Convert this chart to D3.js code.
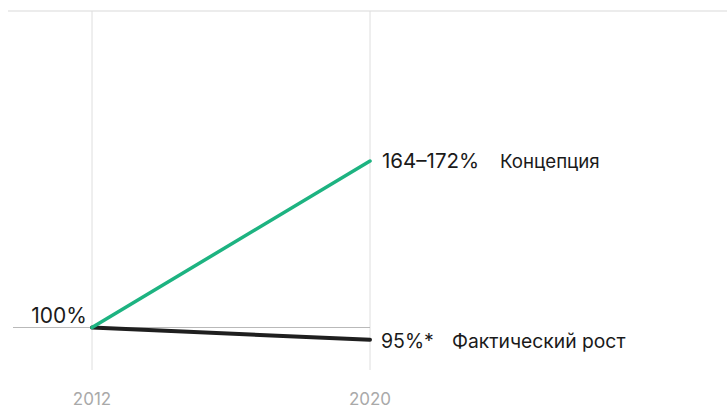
<!DOCTYPE html>
<html><head><meta charset="utf-8">
<script src="https://cdn.jsdelivr.net/npm/d3@7"></script>
<style>body{margin:0;background:#fff}svg{display:block}</style>
</head><body><svg id="c" width="727" height="409"></svg>
<script>
const years = [2012, 2020];
const concept = [100, 168];
const actual = [100, 95];
const startLabel = "100%";
const conceptValueLabel = "164–172%";
const conceptName = "Концепция";
const actualValueLabel = "95%*";
const actualName = "Фактический рост";

const svg = d3.select("#c");
const font = "Inter, 'Noto Sans', sans-serif";
const x = d3.scaleLinear().domain(years).range([92, 370]);
const y = d3.scaleLinear().domain([100, 168]).range([327.5, 161]);

// top rule
svg.append("line").attr("x1", 8).attr("x2", 727).attr("y1", 11).attr("y2", 11)
  .attr("stroke", "#e6e6e6").attr("stroke-width", 1.5);
// vertical grid lines
years.forEach(yr => {
  svg.append("line").attr("x1", x(yr)).attr("x2", x(yr)).attr("y1", 11).attr("y2", 370)
    .attr("stroke", "#dedede").attr("stroke-width", 1);
});
// baseline at 100%
svg.append("line").attr("x1", 13).attr("x2", x(2020)).attr("y1", y(100)).attr("y2", y(100))
  .attr("stroke", "#b9b9b9").attr("stroke-width", 1.2);

const line = d3.line().x((d, i) => x(years[i])).y(d => y(d));
svg.append("path").datum(actual).attr("d", line).attr("fill", "none")
  .attr("stroke", "#1f1f1f").attr("stroke-width", 4).attr("stroke-linecap", "round");
svg.append("path").datum(concept).attr("d", line).attr("fill", "none")
  .attr("stroke", "#1db381").attr("stroke-width", 3.5).attr("stroke-linecap", "round");

// year labels
years.forEach(yr => {
  svg.append("text").attr("x", x(yr)).attr("y", 405).attr("text-anchor", "middle")
    .attr("font-family", font).attr("font-size", 17).attr("fill", "#a9a9a9").text(yr);
});

svg.append("text").attr("x", 87).attr("y", 323).attr("text-anchor", "end")
  .attr("font-family", font).attr("font-size", 21).attr("fill", "#1a1a1a").text(startLabel);

svg.append("text").attr("x", 382).attr("y", y(168) + 7).attr("font-family", font)
  .attr("font-size", 20.5).attr("fill", "#1a1a1a").text(conceptValueLabel);
svg.append("text").attr("x", 500).attr("y", y(168) + 7).attr("font-family", font)
  .attr("font-size", 18.7).attr("fill", "#1a1a1a").text(conceptName);

svg.append("text").attr("x", 381).attr("y", y(95) + 8).attr("font-family", font)
  .attr("font-size", 19.5).attr("fill", "#1a1a1a").text(actualValueLabel);
svg.append("text").attr("x", 452).attr("y", y(95) + 8).attr("font-family", font)
  .attr("font-size", 19.3).attr("fill", "#1a1a1a").text(actualName);
</script></body></html>
